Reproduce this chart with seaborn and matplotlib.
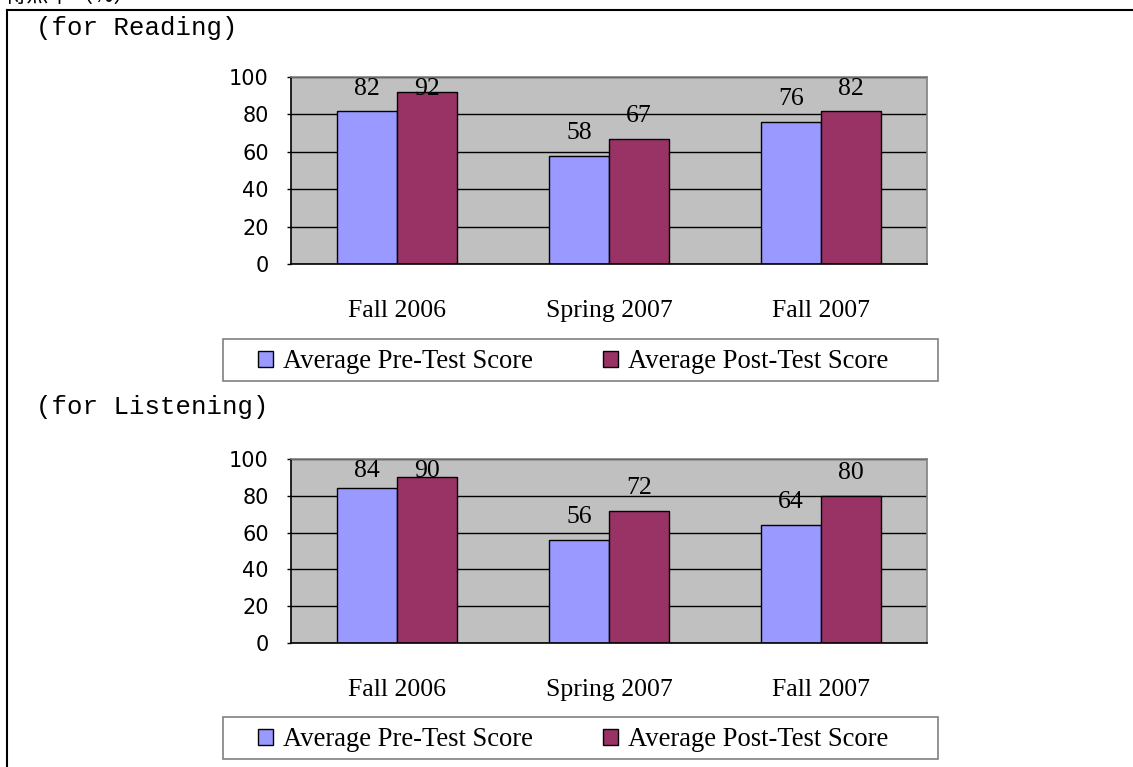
import pandas as pd
import matplotlib
matplotlib.use("Agg")
import matplotlib.pyplot as plt
from matplotlib.lines import Line2D
from matplotlib.patches import Rectangle, Patch
import seaborn as sns

# data
terms = ["Fall 2006", "Spring 2007", "Fall 2007"]
series = ["Average Pre-Test Score", "Average Post-Test Score"]
reading_pre = [82, 58, 76]
reading_post = [92, 67, 82]
listening_pre = [84, 56, 64]
listening_post = [90, 72, 80]
y_ticks = [0, 20, 40, 60, 80, 100]
section_titles = ["(for Reading)", "(for Listening)"]

colors = ["#9999FF", "#993366"]
SERIF = "Liberation Serif"

W, H = 1133, 767


def fx(px):
    return px / W


def fy(py):
    return 1 - py / H


def make_frame(pre, post):
    return pd.DataFrame({
        "term": terms * 2,
        "score": pre + post,
        "test": [series[0]] * 3 + [series[1]] * 3,
    })


def draw_panel(fig, df, top_px, bottom_px, legend_top_px):
    ax = fig.add_axes([fx(291), fy(bottom_px), fx(927) - fx(291), (bottom_px - top_px) / H])
    sns.barplot(data=df, x="term", y="score", hue="test", palette=colors,
                width=0.566, edgecolor="black", linewidth=1, saturation=1,
                legend=False, ax=ax)
    ax.set_facecolor("#C0C0C0")
    ax.set_xlim(-0.5, 2.5)
    ax.set_ylim(0, 100)
    ax.set_yticks(y_ticks)
    ax.set_xlabel("")
    ax.set_ylabel("")
    ax.set_axisbelow(True)
    ax.grid(axis="y", color="black", linewidth=1)
    ax.grid(axis="x", visible=False)
    for side in ["top", "right"]:
        ax.spines[side].set_color("#808080")
        ax.spines[side].set_linewidth(1.2)
    for side in ["left", "bottom"]:
        ax.spines[side].set_color("black")
        ax.spines[side].set_linewidth(1.2)
    ax.tick_params(axis="y", length=3, width=1, pad=13, labelsize=15)
    # category labels sit on a common baseline 53px under the axis
    ax.tick_params(axis="x", length=0, pad=38)
    for lab in ax.get_xticklabels():
        lab.set_fontfamily(SERIF)
        lab.set_fontsize(18.5)
        lab.set_verticalalignment("baseline")

    # value labels: 17px above the bar, but kept inside the plot area
    k = 100 / ax.bbox.height
    for cont in ax.containers:
        for rect in cont:
            v = rect.get_height()
            y = min(v + 17 * k, 100 - 18 * k)
            ax.text(rect.get_x() + rect.get_width() / 2, y, f"{v:.0f}",
                    ha="center", va="baseline", family=SERIF, fontsize=18.5)

    # legend box
    fig.add_artist(Rectangle((fx(223), fy(legend_top_px + 42)), fx(938) - fx(223), 42 / H,
                             transform=fig.transFigure, facecolor="white",
                             edgecolor="#808080", linewidth=1.2))
    handles = [Patch(facecolor=c, edgecolor="black", linewidth=1) for c in colors]
    fig.legend(handles, series, loc="center left", frameon=False, ncol=2,
               bbox_to_anchor=(fx(258), fy(legend_top_px + 23)),
               prop={"family": SERIF, "size": 19.2},
               handlelength=0.57, handleheight=0.57, handletextpad=0.38,
               columnspacing=2.6, borderaxespad=0, borderpad=0)
    return ax


def main():
    plt.rcParams["font.family"] = ["DejaVu Sans"]
    fig = plt.figure(figsize=(W / 100, H / 100), dpi=100)

    # outer frame (page border)
    fig.add_artist(Line2D([fx(7), 1], [fy(10), fy(10)], color="black", linewidth=1.5))
    fig.add_artist(Line2D([fx(7), fx(7)], [fy(10), 0], color="black", linewidth=1.5))
    # header cut off at the very top, as in the reference
    fig.text(fx(4), fy(7), "得点率（%）", va="bottom", ha="left", fontsize=16,
             family=["Noto Sans CJK JP", "DejaVu Sans"])

    fig.text(fx(36), fy(28), section_titles[0], va="center", ha="left",
             family="Liberation Mono", fontsize=18.5)
    fig.text(fx(36), fy(407), section_titles[1], va="center", ha="left",
             family="Liberation Mono", fontsize=18.5)

    draw_panel(fig, make_frame(reading_pre, reading_post), 77, 264, 339)
    draw_panel(fig, make_frame(listening_pre, listening_post), 459, 643, 717)

    fig.savefig("out.png", dpi=100)


if __name__ == "__main__":
    main()
